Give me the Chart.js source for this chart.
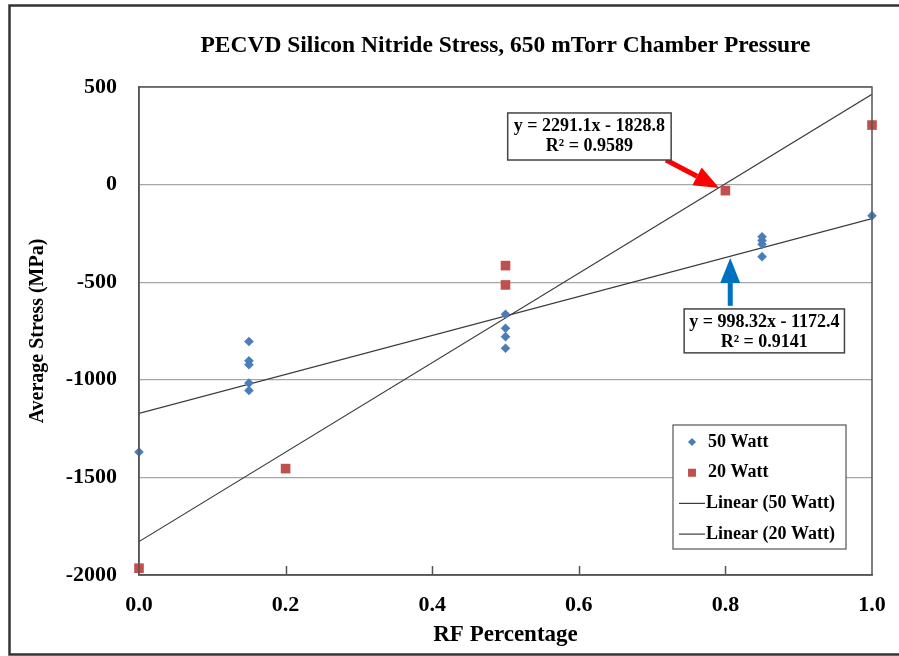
<!DOCTYPE html>
<html>
<head>
<meta charset="utf-8">
<title>PECVD Silicon Nitride Stress</title>
<script src="https://cdn.jsdelivr.net/npm/chart.js@4.4.1/dist/chart.umd.min.js"></script>
<style>
  html, body { margin: 0; padding: 0; background: #fff; }
  canvas { display: block; }
</style>
</head>
<body>
<canvas id="myChart" width="899" height="656"></canvas>
<script>
// data
var x50 = [0, 0.15, 0.15, 0.15, 0.15, 0.15, 0.5, 0.5, 0.5, 0.5, 0.85, 0.85, 0.85, 0.85, 1.0]
var y50 = [-1370, -804, -903, -923, -1017, -1055, -664, -736, -779, -838, -267, -287, -306, -369, -159]
var x20 = [0, 0.2, 0.5, 0.5, 0.8, 1.0]
var y20 = [-1965, -1455, -415, -514, -31, 305]

// trendline coefficients as printed on the chart
var trendNames = ['Linear (50 Watt)', 'Linear (20 Watt)']
var slopes = [998.32, 2291.1]
var intercepts = [-1172.4, -1828.8]
var r2 = ['0.9141', '0.9589']

var yTicks = [-2000, -1500, -1000, -500, 0, 500]
var xTicks = [0, 0.2, 0.4, 0.6, 0.8, 1.0]

var FONT = "'Liberation Serif', 'Times New Roman', serif"

function pts(xs, ys){
  return xs.map(function(x, i){ return {x: x, y: ys[i]} })
}
function trend(i){
  return [0, 1].map(function(x){ return {x: x, y: slopes[i] * x + intercepts[i]} })
}
function eqText(i){
  return 'y = ' + slopes[i] + 'x - ' + Math.abs(intercepts[i])
}

// frame, inner ticks, outer border
var framePlugin = {
  id: 'frame',
  afterDatasetsDraw: function(chart){
    var ctx = chart.ctx, a = chart.chartArea, xs = chart.scales.x
    ctx.save()
    ctx.strokeStyle = '#555'
    ctx.lineWidth = 1.5
    ctx.strokeRect(a.left, a.top, a.right - a.left, a.bottom - a.top)
    ctx.beginPath()
    xTicks.forEach(function(v){
      if (v <= 0 || v >= 1) return
      var px = Math.round(xs.getPixelForValue(v)) + 0.5
      ctx.moveTo(px, a.bottom)
      ctx.lineTo(px, a.bottom - 9)
    })
    ctx.stroke()
    ctx.restore()
  },
  afterDraw: function(chart){
    var ctx = chart.ctx
    ctx.save()
    ctx.strokeStyle = '#333'
    ctx.lineWidth = 2.5
    ctx.beginPath()
    ctx.moveTo(905, 5.5)
    ctx.lineTo(9.5, 5.5)
    ctx.lineTo(9.5, 654.5)
    ctx.lineTo(905, 654.5)
    ctx.stroke()
    ctx.restore()
  }
}

function arrow(ctx, x1, y1, x2, y2, color){
  var ang = Math.atan2(y2 - y1, x2 - x1)
  var hl = 25, hw = 10
  var bx = x2 - Math.cos(ang) * hl, by = y2 - Math.sin(ang) * hl
  ctx.save()
  ctx.strokeStyle = color
  ctx.fillStyle = color
  ctx.lineWidth = 5
  ctx.beginPath()
  ctx.moveTo(x1, y1)
  ctx.lineTo(bx, by)
  ctx.stroke()
  ctx.beginPath()
  ctx.moveTo(x2, y2)
  ctx.lineTo(bx + Math.sin(ang) * hw, by - Math.cos(ang) * hw)
  ctx.lineTo(bx - Math.sin(ang) * hw, by + Math.cos(ang) * hw)
  ctx.closePath()
  ctx.fill()
  ctx.restore()
}

function labelBox(ctx, l, t, r, b, lines){
  ctx.save()
  ctx.fillStyle = '#fff'
  ctx.fillRect(l, t, r - l, b - t)
  ctx.strokeStyle = '#444'
  ctx.lineWidth = 1.5
  ctx.strokeRect(l, t, r - l, b - t)
  ctx.fillStyle = '#000'
  ctx.font = 'bold 18px ' + FONT
  ctx.textAlign = 'center'
  ctx.textBaseline = 'middle'
  var cx = (l + r) / 2
  ctx.fillText(lines[0], cx, t + 13)
  ctx.fillText(lines[1], cx, t + 33)
  ctx.restore()
}

// equation boxes and arrows, placed in data coordinates
var notePlugin = {
  id: 'notes',
  afterDatasetsDraw: function(chart){
    var ctx = chart.ctx, xs = chart.scales.x, ys = chart.scales.y
    function X(v){ return xs.getPixelForValue(v) }
    function Y(v){ return ys.getPixelForValue(v) }
    arrow(ctx, X(0.719), Y(126), X(0.7915), Y(-17), '#ff0000')
    labelBox(ctx, X(0.503), Y(367), X(0.726), Y(126), [eqText(1), 'R² = ' + r2[1]])
    arrow(ctx, X(0.8066), Y(-621), X(0.8066), Y(-376), '#0070c0')
    labelBox(ctx, X(0.7437), Y(-637), X(0.9624), Y(-862), [eqText(0), 'R² = ' + r2[0]])
  }
}

// legend box inside the plot
var legendPlugin = {
  id: 'boxLegend',
  afterDatasetsDraw: function(chart){
    var ctx = chart.ctx, a = chart.chartArea
    var l = a.right - 199, t = a.top + 338, w = 173, h = 124
    ctx.save()
    ctx.fillStyle = '#fff'
    ctx.fillRect(l, t, w, h)
    ctx.strokeStyle = '#555'
    ctx.lineWidth = 1.2
    ctx.strokeRect(l, t, w, h)
    ctx.font = 'bold 18px ' + FONT
    ctx.textBaseline = 'middle'
    chart.data.datasets.forEach(function(ds, i){
      var cy = t + 17 + i * 30.7
      if (ds.showLine === false){
        ctx.fillStyle = ds.backgroundColor
        ctx.beginPath()
        Chart.helpers.drawPoint(ctx, {pointStyle: ds.pointStyle, radius: ds.pointRadius * 0.8, borderWidth: 0}, l + 19, cy)
        ctx.fill()
      } else {
        ctx.strokeStyle = ds.borderColor
        ctx.lineWidth = ds.borderWidth
        ctx.beginPath()
        ctx.moveTo(l + 6, cy)
        ctx.lineTo(l + 32, cy)
        ctx.stroke()
      }
      ctx.fillStyle = '#000'
      ctx.fillText(ds.label, l + (ds.showLine === false ? 35 : 33), cy)
    })
    ctx.restore()
  }
}

var myChart = document.getElementById('myChart').getContext('2d')

var chart = new Chart(myChart, {
  type: 'scatter',
  data: {
    datasets: [
      {
        label: '50 Watt',
        data: pts(x50, y50),
        pointStyle: 'rectRot',
        pointRadius: 4.8,
        backgroundColor: '#4a7ebb',
        borderColor: '#4a7ebb',
        borderWidth: 0,
        showLine: false,
        clip: false,
        order: 1
      },
      {
        label: '20 Watt',
        data: pts(x20, y20),
        pointStyle: 'rect',
        pointRadius: 6.8,
        backgroundColor: '#c0504d',
        borderColor: '#c0504d',
        borderWidth: 0,
        showLine: false,
        clip: false,
        order: 1
      },
      {
        label: trendNames[0],
        data: trend(0),
        showLine: true,
        borderColor: '#3a3a3a',
        borderWidth: 1.2,
        pointRadius: 0,
        order: 2
      },
      {
        label: trendNames[1],
        data: trend(1),
        showLine: true,
        borderColor: '#3a3a3a',
        borderWidth: 1.2,
        pointRadius: 0,
        order: 2
      }
    ]
  },
  options: {
    responsive: false,
    animation: false,
    events: [],
    layout: { padding: { left: 12, right: 27, top: 0, bottom: 0 } },
    plugins: {
      legend: { display: false },
      tooltip: { enabled: false },
      title: {
        display: true,
        fullSize: false,
        text: 'PECVD Silicon Nitride Stress, 650 mTorr Chamber Pressure',
        color: '#000',
        font: { family: FONT, size: 23.5, weight: 'bold', lineHeight: 1.2 },
        padding: { top: 32, bottom: 26.8 }
      }
    },
    scales: {
      x: {
        type: 'linear',
        min: 0,
        max: 1,
        afterBuildTicks: function(s){ s.ticks = xTicks.map(function(v){ return {value: v} }) },
        afterFit: function(s){ s.height = 81; s.paddingLeft = 0; s.paddingRight = 0 },
        grid: { drawOnChartArea: false, drawTicks: false },
        border: { color: '#555', width: 1.5 },
        ticks: {
          padding: 17,
          color: '#000',
          font: { family: FONT, size: 22, weight: 'bold' },
          callback: function(v){ return Number(v).toFixed(1) }
        },
        title: {
          display: true,
          text: 'RF Percentage',
          color: '#000',
          font: { family: FONT, size: 23, weight: 'bold', lineHeight: 1.2 },
          padding: { top: 0, bottom: 7.5 }
        }
      },
      y: {
        type: 'linear',
        min: -2000,
        max: 500,
        afterBuildTicks: function(s){ s.ticks = yTicks.map(function(v){ return {value: v} }) },
        afterFit: function(s){ s.width = 127 },
        grid: { drawTicks: false, color: '#a6a6a6', lineWidth: 1.2 },
        border: { color: '#555', width: 1.5 },
        ticks: {
          padding: 22,
          color: '#000',
          font: { family: FONT, size: 22, weight: 'bold' },
          callback: function(v){ return String(v) }
        },
        title: {
          display: true,
          text: 'Average Stress (MPa)',
          color: '#000',
          font: { family: FONT, size: 20, weight: 'bold', lineHeight: 1.2 },
          padding: { top: 14, bottom: 0 }
        }
      }
    }
  },
  plugins: [framePlugin, notePlugin, legendPlugin]
})
</script>
</body>
</html>
